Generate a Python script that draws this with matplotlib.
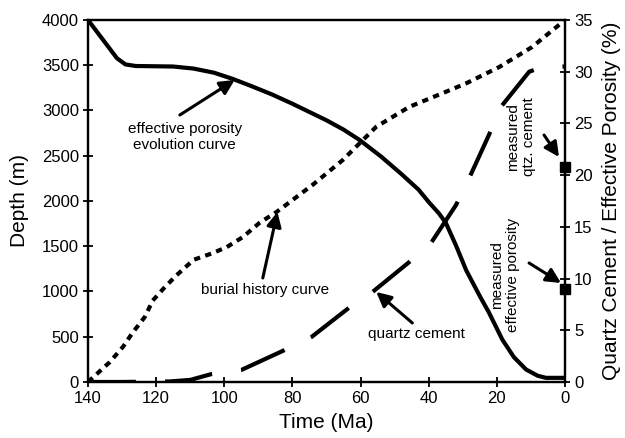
import matplotlib
matplotlib.use("Agg")
import matplotlib.pyplot as plt

plt.rcParams["font.family"] = ["Liberation Sans", "DejaVu Sans"]

# burial history (depth, m)
burial_time = [140, 133.6, 129.7, 127, 123.3, 121, 117.4, 114, 109, 103.7, 99.3,
               94.6, 89.6, 84.6, 80, 74, 65.3, 55.4, 45.7, 36, 29, 19.3, 9.7, 0]
burial_depth = [0, 220, 390, 540, 720, 900, 1050, 1180, 1350, 1420, 1490,
                1600, 1760, 1880, 2010, 2180, 2450, 2820, 3040, 3190, 3300, 3480, 3700, 4000]

# effective porosity evolution (%)
porosity_time = [140, 131.5, 129, 126, 115, 109, 103, 97.5, 92, 86, 80, 75, 70, 65,
                 60.3, 54, 48, 43, 40, 37, 35, 32, 29, 25, 22.3, 18.4, 15, 11.4, 8,
                 5.6, 0]
porosity_pct = [35.0, 31.3, 30.7, 30.55, 30.5, 30.3, 29.9, 29.3, 28.6, 27.8, 26.9,
                26.1, 25.3, 24.4, 23.4, 21.8, 20.1, 18.6, 17.4, 16.3, 15.4, 13.2,
                10.8, 8.3, 6.7, 4.1, 2.4, 1.2, 0.6, 0.4, 0.4]

# quartz cement (%)
cement_time = [140, 130, 116, 110, 103.7, 95, 83, 74.4, 63.3, 56.5, 45.7, 39.2,
               32, 28, 22.3, 18.8, 10.5, 7, 0]
cement_pct = [0, 0, 0.05, 0.2, 0.77, 1.16, 2.98, 4.35, 7.2, 8.7, 11.6, 13.5,
              17.1, 19.8, 23.9, 26.6, 30.0, 30.4, 30.5]

# measured values at present day (%)
measured_porosity = 9.0
measured_cement = 20.8

fig = plt.figure(figsize=(6.25, 4.38), dpi=100)
ax = fig.add_axes([0.1408, 0.1279, 0.7632, 0.8265])
ax2 = ax.twinx()

ax.plot(burial_time, burial_depth, color="k", lw=3, linestyle=(0, (1.5, 1.3)))
ax2.plot(porosity_time, porosity_pct, color="k", lw=3, solid_capstyle="butt")
ax2.plot(cement_time, cement_pct, color="k", lw=3, linestyle=(0, (11.5, 7)))
ax2.plot([0, 0], [measured_porosity, measured_cement], "s", color="k",
         markersize=7.5, clip_on=False, zorder=5)

ax.set_xlim(140, 0)
ax.set_ylim(0, 4000)
ax2.set_ylim(0, 35)
ax.set_xticks(range(140, -1, -20))
ax.set_yticks(range(0, 4001, 500))
ax2.set_yticks(range(0, 36, 5))

for a in (ax, ax2):
    for s in a.spines.values():
        s.set_linewidth(1.6)
    a.tick_params(direction="inout", length=7, width=1.3, labelsize=12, pad=3)

ax.set_xlabel("Time (Ma)", fontsize=15, labelpad=5)
ax.set_ylabel("Depth (m)", fontsize=15, labelpad=9)
ax2.set_ylabel("Quartz Cement / Effective Porosity (%)", fontsize=15, labelpad=7)

arrow = dict(arrowstyle="-|>", color="k", lw=2.2, mutation_scale=22, shrinkA=0, shrinkB=0)
note = dict(fontsize=11, linespacing=1.15, ha="center", va="center")

ax.annotate("", xy=(96.95, 3337), xytext=(113.05, 2950), arrowprops=arrow)
ax.text(111.6, 2707, "effective porosity\nevolution curve", **note)

ax.annotate("", xy=(84.4, 1879), xytext=(88.7, 1149), arrowprops=arrow)
ax.text(87.9, 1017, "burial history curve", **note)

ax.annotate("", xy=(55.4, 995), xytext=(44.8, 652), arrowprops=arrow)
ax.text(43.6, 530, "quartz cement", **note)

ax.annotate("", xy=(1.17, 1094), xytext=(10.55, 1315), arrowprops=arrow)
ax.text(17.6, 1182, "measured\neffective porosity", rotation=90, **note)

ax.annotate("", xy=(1.76, 2486), xytext=(6.15, 2729), arrowprops=arrow)
ax.text(12.9, 2707, "measured\nqtz. cement", rotation=90, **note)

fig.savefig("out.png", dpi=100)
